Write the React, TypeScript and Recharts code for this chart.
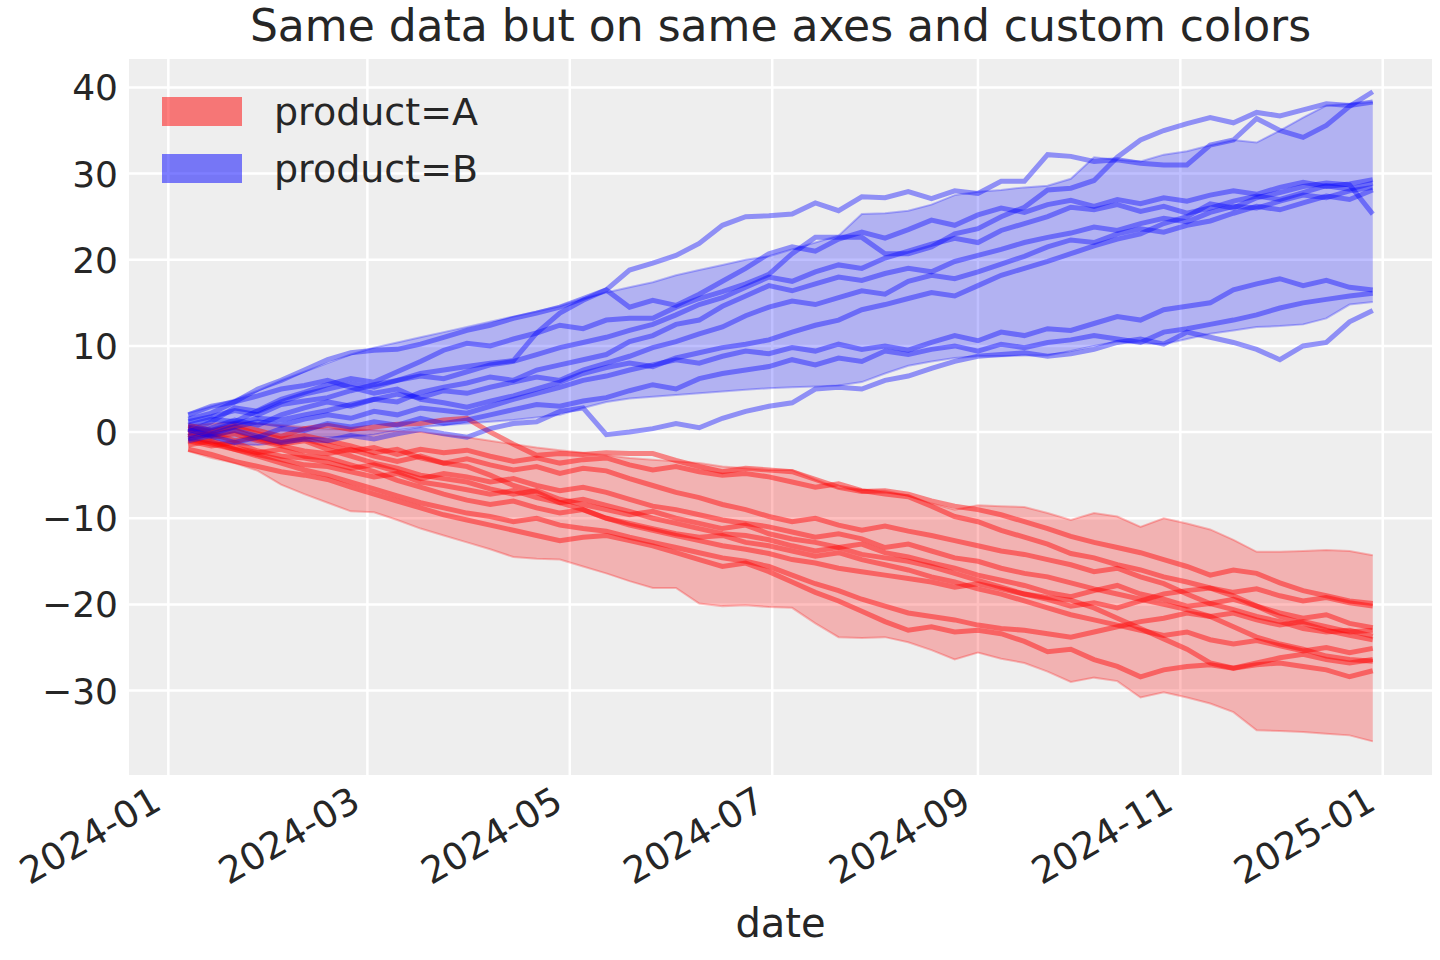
import {
  ComposedChart,
  Line,
  Area,
  XAxis,
  YAxis,
  CartesianGrid,
  Legend,
} from "recharts";

// weekly dates, 2024-01-07 .. 2024-12-29
const startDate = Date.UTC(2024, 0, 7);
const DAY = 86400000;
const dates: string[] = Array.from({ length: 52 }, (_, i) =>
  new Date(startDate + i * 7 * DAY).toISOString().slice(0, 10)
);
const monthTicks = ["2024-01", "2024-03", "2024-05", "2024-07", "2024-09", "2024-11", "2025-01"];
const yTicks = [-30, -20, -10, 0, 10, 20, 30, 40];

// product A: shaded interval
const bandALow = [
  -2.2, -3.0, -3.6, -4.5, -6.1, -7.2, -8.2, -9.2, -9.3, -10.2, -11.2, -12.0, -12.8,
  -13.6, -14.5, -14.7, -14.8, -15.6, -16.4, -17.3, -18.1, -18.1, -19.9, -20.2, -20.1, -20.3,
  -20.4, -22.2, -23.8, -23.9, -23.8, -24.4, -25.3, -26.4, -25.6, -26.3, -26.8, -27.8, -29.0,
  -28.5, -28.9, -30.8, -30.2, -30.8, -31.5, -32.5, -34.6, -34.7, -34.8, -35.0, -35.2, -35.9,
];
const bandAHigh = [
  0.8, 1.0, 1.2, 1.0, 0.8, 0.6, 0.4, 0.3, 0.2, 0.1, 0.0, -0.3, -0.6,
  -1.0, -1.4, -1.8, -2.1, -2.4, -2.7, -3.0, -3.2, -3.4, -3.6, -4.0, -4.2, -4.4,
  -4.4, -5.5, -6.5, -6.7, -6.8, -7.4, -8.3, -9.0, -8.5, -8.6, -8.7, -9.4, -10.2,
  -9.4, -9.8, -11.0, -10.0, -10.6, -11.3, -12.5, -13.9, -13.9, -13.8, -13.7, -13.8, -14.3,
];

// product B: shaded interval
const bandBLow = [
  -0.9, -1.2, -1.4, -1.5, -1.2, -0.8, -0.6, -0.5, -0.3, 0.2, 0.6, 0.8, 1.0,
  1.2, 1.4, 1.7, 2.0, 2.8, 3.5, 3.9, 4.1, 4.3, 4.5, 4.7, 4.9, 5.1,
  5.2, 5.3, 5.4, 5.8, 6.8, 7.7, 8.2, 8.6, 8.8, 8.8, 8.9, 8.9, 9.4,
  10.0, 10.5, 10.3, 10.2, 10.8, 11.4, 11.8, 12.2, 12.3, 12.5, 13.2, 14.8, 15.1,
];
const bandBHigh = [
  2.2, 3.0, 3.8, 4.8, 6.0, 7.0, 8.0, 9.0, 9.8, 10.4, 11.0, 11.6, 12.2,
  12.8, 13.4, 14.0, 14.6, 15.5, 16.2, 16.8, 17.4, 18.2, 18.8, 19.4, 20.0, 20.4,
  21.2, 22.0, 22.8, 25.3, 25.4, 25.7, 26.4, 27.5, 27.9, 28.1, 28.4, 28.6, 29.4,
  31.9, 31.6, 31.4, 32.2, 32.6, 33.3, 33.9, 33.6, 35.0, 36.5, 37.9, 38.1, 38.3,
];

// product A: individual draws
const a1 = [0.5, 0.0, 0.8, 0.2, -0.5, 0.4, 0.8, 0.3, 0.6, 0.9, 1.0, 1.4, 1.6, 0.0, -1.4, -2.7, -2.5, -2.6, -2.4, -2.5, -2.5, -3.3, -4.0, -4.6, -4.2, -4.4, -4.6, -5.5, -6.4, -6.9, -6.8, -7.2, -8.0, -8.6, -9.0, -9.6, -10.4, -11.2, -12.1, -12.8, -13.4, -14.0, -14.8, -15.6, -16.6, -16.0, -16.4, -17.5, -18.4, -19.0, -19.6, -19.9];
const a2 = [-0.5, -0.2, -1.0, -0.6, -1.2, -0.8, -1.5, -2.2, -1.8, -2.6, -2.0, -2.4, -2.1, -2.8, -3.4, -3.0, -3.6, -3.2, -3.0, -3.8, -4.4, -4.0, -4.6, -5.0, -4.8, -5.2, -5.8, -6.4, -6.0, -6.8, -7.2, -7.5, -8.6, -9.8, -10.4, -11.4, -12.2, -13.0, -14.1, -14.6, -15.4, -16.0, -16.8, -17.4, -18.1, -18.6, -18.2, -19.0, -19.6, -19.2, -19.8, -20.2];
const a3 = [0.0, -0.6, -0.2, -1.0, -1.6, -2.2, -2.5, -2.0, -2.8, -3.4, -2.8, -3.6, -3.1, -3.8, -4.4, -4.0, -4.8, -4.2, -4.5, -5.4, -6.2, -7.0, -7.6, -8.4, -9.0, -9.8, -10.4, -10.0, -10.8, -11.4, -10.9, -11.5, -12.0, -12.6, -13.2, -13.8, -14.2, -14.8, -15.4, -16.2, -15.8, -16.8, -17.6, -18.8, -19.9, -19.4, -20.2, -21.0, -21.6, -21.2, -22.2, -22.7];
const a4 = [-1.0, -1.6, -1.2, -2.2, -2.8, -3.0, -3.5, -4.2, -3.8, -4.6, -5.4, -4.8, -5.2, -5.8, -5.4, -6.2, -6.8, -6.4, -7.0, -7.8, -8.6, -9.0, -9.6, -10.2, -10.6, -11.0, -11.6, -12.2, -11.8, -12.4, -13.4, -13.0, -13.8, -14.6, -15.0, -15.8, -16.4, -16.8, -17.5, -18.2, -18.8, -19.4, -20.0, -20.6, -21.4, -21.0, -21.8, -22.4, -22.0, -22.6, -23.2, -23.0];
const a5 = [0.3, -0.4, 0.2, -0.8, -1.4, -1.0, -2.0, -2.8, -3.6, -4.2, -5.0, -5.4, -5.8, -6.6, -7.2, -6.8, -7.8, -8.4, -9.0, -9.6, -9.2, -10.0, -10.6, -11.2, -10.8, -11.8, -12.4, -12.8, -13.4, -13.0, -14.0, -14.5, -15.2, -15.8, -16.6, -17.2, -17.8, -18.6, -19.1, -18.4, -17.8, -18.8, -19.4, -20.2, -19.9, -20.6, -21.4, -22.0, -22.8, -23.2, -23.0, -23.7];
const a6 = [-0.8, -1.4, -2.0, -2.6, -3.2, -3.8, -4.0, -4.6, -5.2, -4.8, -5.8, -6.2, -6.7, -7.2, -6.8, -7.6, -8.2, -7.8, -8.5, -9.2, -10.0, -10.6, -11.2, -11.8, -12.0, -12.5, -13.2, -13.8, -13.4, -14.2, -14.6, -15.0, -15.6, -16.4, -17.2, -18.0, -18.8, -19.4, -20.2, -19.8, -20.4, -19.6, -18.8, -18.4, -18.1, -19.0, -20.2, -21.4, -22.2, -23.0, -23.6, -24.1];
const a7 = [-1.5, -1.0, -1.8, -2.4, -2.0, -2.8, -3.0, -3.8, -4.6, -5.6, -6.4, -7.2, -7.9, -8.4, -8.0, -8.8, -9.4, -9.0, -10.0, -10.6, -11.2, -11.8, -12.2, -12.0, -12.8, -13.2, -13.8, -14.4, -14.0, -14.8, -15.4, -16.0, -16.8, -17.4, -18.2, -18.8, -19.6, -20.4, -21.2, -21.8, -22.4, -23.0, -23.6, -23.2, -24.1, -24.6, -24.2, -24.8, -25.4, -25.0, -25.6, -25.1];
const a8 = [0.8, 0.2, 0.6, -0.2, -0.8, -0.4, -1.0, -1.6, -2.4, -2.0, -3.0, -3.6, -4.0, -5.0, -6.2, -7.0, -8.2, -9.0, -10.0, -10.8, -11.4, -12.0, -12.6, -13.2, -13.6, -14.1, -14.8, -15.2, -15.8, -16.2, -16.6, -17.0, -17.4, -18.0, -17.6, -18.2, -18.8, -19.2, -19.5, -20.4, -21.6, -22.8, -24.0, -25.2, -26.8, -27.4, -26.8, -26.2, -25.8, -26.4, -26.8, -26.4];
const a9 = [-0.3, -1.2, -2.0, -2.8, -3.6, -4.4, -5.0, -5.8, -6.6, -7.4, -8.2, -8.8, -9.4, -9.8, -10.4, -10.0, -10.8, -11.2, -11.5, -12.2, -12.8, -13.4, -14.0, -14.6, -15.0, -15.6, -16.6, -17.6, -18.4, -19.4, -20.2, -21.0, -21.4, -21.8, -22.4, -22.8, -23.0, -23.4, -23.8, -23.2, -22.6, -22.0, -21.6, -21.0, -21.4, -22.6, -23.8, -24.6, -25.2, -26.0, -26.4, -26.6];
const a10 = [-2.0, -2.6, -3.4, -4.0, -4.6, -5.0, -5.5, -6.4, -7.2, -8.0, -8.8, -9.6, -10.2, -10.8, -11.4, -12.0, -12.6, -12.2, -12.0, -12.6, -13.2, -14.0, -14.8, -15.6, -15.2, -16.2, -17.4, -18.6, -19.6, -20.8, -22.0, -23.0, -22.6, -23.2, -23.0, -23.4, -24.3, -25.5, -25.2, -26.4, -27.2, -28.4, -27.6, -27.2, -27.0, -27.4, -27.0, -26.8, -27.2, -27.6, -28.4, -27.7];

// product B: individual draws
const b1 = [2.0, 3.0, 3.5, 5.0, 6.0, 7.2, 8.4, 9.2, 9.5, 9.6, 10.2, 11.0, 11.8, 12.4, 13.2, 13.8, 14.5, 15.5, 16.5, 18.8, 19.6, 20.5, 21.9, 24.0, 25.0, 25.1, 25.3, 26.6, 25.7, 27.3, 27.2, 27.9, 27.1, 28.0, 27.7, 29.1, 29.1, 32.2, 32.0, 31.4, 31.6, 31.2, 31.0, 31.0, 33.3, 33.9, 36.4, 35.0, 34.2, 35.6, 37.8, 39.5];
const b2 = [0.8, 1.5, 1.2, 2.5, 3.8, 4.6, 5.5, 6.2, 5.8, 7.0, 8.2, 9.5, 10.3, 10.0, 10.8, 11.5, 12.4, 12.0, 13.0, 13.2, 13.2, 14.5, 15.5, 16.3, 17.2, 18.3, 20.7, 22.6, 22.6, 22.6, 20.7, 20.7, 21.5, 23.0, 23.6, 25.0, 26.1, 28.1, 28.3, 29.2, 31.9, 33.9, 35.0, 35.8, 36.5, 35.9, 37.1, 36.7, 37.4, 38.1, 37.9, 38.3];
const b3 = [1.2, 1.8, 2.5, 2.0, 3.2, 3.6, 4.0, 4.8, 5.5, 6.0, 6.8, 7.2, 7.6, 8.0, 8.3, 11.5, 13.8, 15.3, 16.5, 14.5, 15.3, 14.7, 16.0, 17.5, 19.0, 20.7, 21.5, 21.0, 22.4, 23.2, 22.5, 23.5, 24.6, 24.0, 25.2, 26.0, 25.5, 26.4, 26.9, 26.2, 27.0, 26.5, 27.2, 26.8, 27.5, 28.0, 27.6, 28.4, 29.0, 28.5, 28.8, 29.3];
const b4 = [0.0, 1.2, 2.8, 2.4, 3.5, 4.4, 5.0, 5.6, 5.2, 6.0, 6.5, 6.2, 7.0, 7.8, 8.2, 9.0, 9.8, 10.4, 11.0, 11.8, 12.5, 13.6, 14.8, 15.6, 16.8, 18.0, 17.5, 18.6, 19.4, 19.0, 20.2, 21.0, 21.8, 22.5, 22.0, 23.4, 24.2, 25.0, 26.1, 25.8, 26.4, 25.6, 26.2, 25.4, 26.0, 26.8, 27.4, 27.0, 27.8, 28.6, 28.2, 28.9];
const b5 = [0.5, 0.2, 1.0, 1.6, 1.4, 2.0, 2.5, 3.2, 3.8, 3.5, 4.6, 5.2, 5.7, 6.4, 6.0, 7.2, 7.8, 8.4, 9.0, 10.5, 11.2, 12.5, 13.0, 14.6, 15.8, 17.0, 16.4, 17.2, 18.0, 17.6, 18.4, 19.0, 18.6, 19.8, 20.5, 21.2, 22.0, 22.6, 23.1, 23.8, 23.4, 24.2, 24.8, 24.4, 25.5, 26.2, 26.0, 26.8, 27.5, 27.2, 28.0, 28.4];
const b6 = [-0.5, 0.5, 1.4, 0.8, 2.0, 2.8, 3.5, 3.0, 3.8, 4.4, 4.0, 4.8, 4.5, 5.2, 5.8, 6.4, 6.0, 7.2, 8.0, 8.8, 9.8, 10.5, 11.4, 12.2, 13.5, 14.5, 15.2, 14.8, 15.6, 16.4, 16.0, 17.5, 18.2, 17.8, 18.6, 19.5, 20.4, 21.5, 22.3, 22.0, 23.0, 23.6, 23.2, 24.0, 24.5, 25.4, 26.2, 25.8, 26.6, 27.4, 27.0, 28.1];
const b7 = [1.5, 2.2, 3.5, 4.2, 5.0, 5.4, 6.0, 5.2, 4.5, 5.0, 3.8, 3.4, 2.9, 3.6, 4.2, 5.0, 5.8, 6.8, 7.5, 8.0, 7.6, 8.6, 9.2, 9.8, 10.2, 10.7, 11.6, 12.4, 13.0, 14.2, 14.8, 15.5, 16.2, 15.8, 17.0, 18.2, 19.0, 19.8, 20.7, 21.6, 22.4, 23.0, 24.2, 25.0, 26.5, 26.0, 27.2, 27.8, 28.5, 28.9, 28.7, 25.3];
const b8 = [-0.8, -0.2, 0.6, 1.2, 0.8, 1.5, 2.0, 1.6, 2.4, 2.0, 2.8, 2.5, 2.2, 3.0, 3.8, 4.5, 5.2, 6.0, 6.5, 7.2, 7.8, 8.4, 8.0, 8.8, 9.4, 9.1, 9.8, 9.4, 10.2, 9.6, 10.0, 9.5, 10.4, 11.2, 10.6, 11.6, 11.2, 12.0, 11.8, 12.6, 13.4, 13.0, 14.2, 14.6, 15.0, 16.5, 17.2, 17.8, 17.0, 17.6, 16.8, 16.5];
const b9 = [0.3, -0.5, -1.2, -0.6, 0.4, 0.2, 1.0, 0.6, 1.2, 0.8, 1.6, 1.0, 1.4, 2.0, 2.6, 3.2, 3.0, 3.6, 4.0, 4.8, 5.5, 5.0, 6.2, 6.8, 7.2, 7.6, 8.4, 7.8, 8.6, 8.2, 9.4, 9.0, 9.6, 10.0, 9.4, 10.2, 9.8, 10.4, 10.7, 11.2, 10.8, 10.4, 11.6, 12.0, 12.5, 13.0, 13.6, 14.4, 15.0, 15.4, 15.8, 16.1];
const b10 = [-1.0, -0.4, 0.2, -0.5, -1.2, -0.8, -1.0, -0.4, -0.8, -0.2, 0.3, -0.2, -0.6, 0.4, 1.0, 1.2, 2.4, 2.8, -0.3, 0.0, 0.4, 1.0, 0.5, 1.6, 2.4, 3.0, 3.4, 5.0, 5.2, 5.0, 6.0, 6.5, 7.4, 8.2, 8.8, 9.0, 9.2, 8.8, 9.1, 9.6, 10.4, 10.8, 10.2, 11.6, 11.0, 10.4, 9.6, 8.4, 10.0, 10.4, 12.8, 14.1];

const linesA = [a1, a2, a3, a4, a5, a6, a7, a8, a9, a10];
const linesB = [b1, b2, b3, b4, b5, b6, b7, b8, b9, b10];

const dayOf = (s: string) => {
  const [y, m, d] = s.split("-").map(Number);
  return (Date.UTC(y, m - 1, d || 1) - Date.UTC(2024, 0, 1)) / DAY;
};

const data = dates.map((d, i) => {
  const row: Record<string, any> = {
    t: dayOf(d),
    bandA: [bandALow[i], bandAHigh[i]],
    bandB: [bandBLow[i], bandBHigh[i]],
  };
  linesA.forEach((s, k) => (row[`a${k}`] = s[i]));
  linesB.forEach((s, k) => (row[`b${k}`] = s[i]));
  return row;
});

const FONT = "DejaVu Sans, sans-serif";
const TEXT = "#262626";
const RED = "#ff0000";
const BLUE = "#0000ff";

const firstDay = dayOf(dates[0]);
const lastDay = dayOf(dates[dates.length - 1]);
const pad = (lastDay - firstDay) * 0.05;

const XTick = ({ x, y, payload }: any) => {
  const label = new Date(Date.UTC(2024, 0, 1) + payload.value * DAY).toISOString().slice(0, 7);
  const ax = x - 5;
  const ay = y + 33;
  return (
    <text x={ax} y={ay} transform={`rotate(-30 ${ax} ${ay})`} textAnchor="end"
      fontFamily={FONT} fontSize={37} fill={TEXT}>
      {label}
    </text>
  );
};

const YTick = ({ x, y, payload }: any) => (
  <text x={x - 11} y={y} dy={13} textAnchor="end" fontFamily={FONT} fontSize={36} fill={TEXT}>
    {payload.value < 0 ? `\u2212${Math.abs(payload.value)}` : payload.value}
  </text>
);

const legendItems = [
  { label: "product=A", color: RED },
  { label: "product=B", color: BLUE },
];

const renderLegend = () => (
  <div style={{ fontFamily: FONT, fontSize: 38, color: TEXT }}>
    {legendItems.map((it) => (
      <div key={it.label} style={{ display: "flex", alignItems: "center", height: 57 }}>
        <div style={{
          width: 76, height: 25, background: it.color, opacity: 0.5,
          border: `2px solid ${it.color}`, marginRight: 32,
        }} />
        <span>{it.label}</span>
      </div>
    ))}
  </div>
);

export default function App() {
  return (
    <div style={{ position: "absolute", left: 0, top: 0, width: 1440, height: 960, background: "#fff" }}>
      <div style={{
        position: "absolute", left: 129, width: 1303, top: 0, textAlign: "center",
        fontFamily: FONT, fontSize: 44, color: TEXT, lineHeight: "52px",
      }}>
        Same data but on same axes and custom colors
      </div>
      <ComposedChart width={1440} height={960} data={data}
        margin={{ top: 59, right: 8, bottom: 35, left: 29 }}>
        <CartesianGrid fill="#eeeeee" stroke="#ffffff" strokeWidth={2.5}
          horizontalValues={yTicks} verticalValues={monthTicks.map(dayOf)} />
        <XAxis dataKey="t" type="number" domain={[firstDay - pad, lastDay + pad]}
          ticks={monthTicks.map(dayOf)} tick={<XTick />} height={150}
          axisLine={false} tickLine={false} tickSize={0} tickMargin={0} allowDataOverflow />
        <YAxis type="number" domain={[-39.8, 43.3]} ticks={yTicks} tick={<YTick />} width={100}
          axisLine={false} tickLine={false} tickSize={0} tickMargin={0} allowDataOverflow />
        <Area dataKey="bandA" type="linear" fill={RED} fillOpacity={0.25}
          stroke={RED} strokeOpacity={0.25} strokeWidth={2} isAnimationActive={false} />
        <Area dataKey="bandB" type="linear" fill={BLUE} fillOpacity={0.25}
          stroke={BLUE} strokeOpacity={0.25} strokeWidth={2} isAnimationActive={false} />
        {linesA.map((_, k) => (
          <Line key={`a${k}`} dataKey={`a${k}`} type="linear" stroke={RED} strokeOpacity={0.45}
            strokeWidth={5} dot={false} activeDot={false} isAnimationActive={false} />
        ))}
        {linesB.map((_, k) => (
          <Line key={`b${k}`} dataKey={`b${k}`} type="linear" stroke={BLUE} strokeOpacity={0.4}
            strokeWidth={5} dot={false} activeDot={false} isAnimationActive={false} />
        ))}
        <Legend content={renderLegend} layout="vertical" align="center" verticalAlign="middle"
          wrapperStyle={{ left: 162, top: 83, width: "auto", height: "auto" }} />
      </ComposedChart>
      <div style={{
        position: "absolute", left: 129, width: 1303, top: 900, textAlign: "center",
        fontFamily: FONT, fontSize: 40, color: TEXT,
      }}>
        date
      </div>
    </div>
  );
}
